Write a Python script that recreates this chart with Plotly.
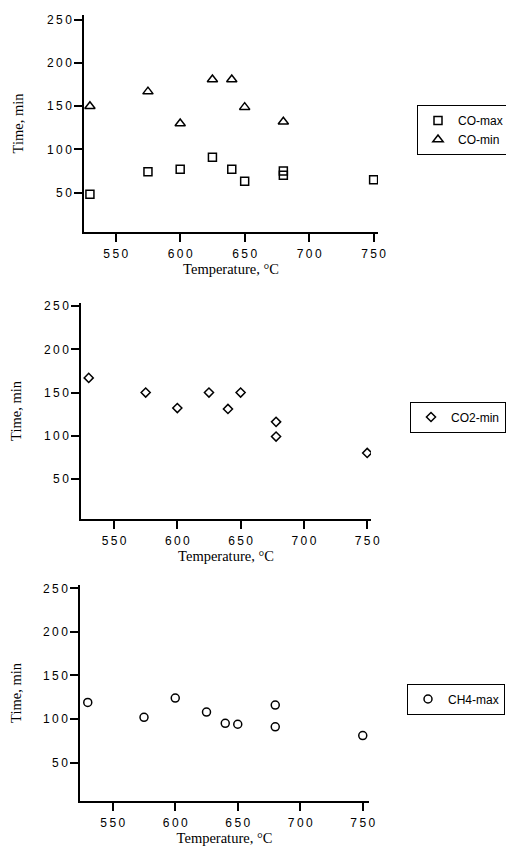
import plotly.graph_objects as go

W, H = 514, 851
OX, OY = 8, 8  # page body margin offset

# ---- data ----
co_max_T = [530, 575, 600, 625, 640, 650, 680, 680, 750]
co_max_t = [48, 74, 77, 91, 77, 63, 75, 70, 65]
co_min_T = [530, 575, 600, 625, 640, 650, 680]
co_min_t = [150, 167, 130, 181, 181, 149, 132]
co2_min_T = [530, 575, 600, 625, 640, 650, 678, 678, 750]
co2_min_t = [167, 150, 132, 150, 131, 150, 116, 99, 80]
ch4_max_T = [530, 575, 600, 625, 640, 650, 680, 680, 750]
ch4_max_t = [119, 102, 124, 108, 95, 94, 116, 91, 81]

x_ticks = [550, 600, 650, 700, 750]
y_ticks = [50, 100, 150, 200, 250]
x_title = "Temperature, °C"
y_title = "Time, min"

def spaced(v):
    return "\u2009".join(str(v))

# panel geometry in page pixels: (left, right, top, bottom), x range, y range
panels = [
    dict(px=(84, 378, 15, 232), xr=(525.4, 753.4), yr=(4.3, 255.8)),
    dict(px=(81, 371, 303, 519), xr=(523.9, 753.0), yr=(3.4, 253.8)),
    dict(px=(80, 369, 585, 801), xr=(523.8, 755.0), yr=(5.9, 253.8)),
]
legend_pos = [(417, 130), (410, 417), (407, 699)]

def fx(px):
    return (px - OX) / W

def fy(py):
    return 1 - (py - OY) / H

fig = go.Figure()
mk = dict(color="black", line=dict(color="black", width=1.5))
tickfont = dict(family="Liberation Sans, Arial, sans-serif", size=12, color="black")
titlefont = dict(family="Liberation Serif, Times New Roman, serif", size=14.5, color="black")

fig.add_trace(go.Scatter(x=co_max_T, y=co_max_t, mode="markers", name="CO-max",
                         marker=dict(symbol="square-open", size=8, **mk),
                         xaxis="x", yaxis="y", legend="legend"))
fig.add_trace(go.Scatter(x=co_min_T, y=co_min_t, mode="markers", name="CO-min",
                         marker=dict(symbol="triangle-up-open", size=9, **mk),
                         xaxis="x", yaxis="y", legend="legend"))
fig.add_trace(go.Scatter(x=co2_min_T, y=co2_min_t, mode="markers", name="CO2-min",
                         marker=dict(symbol="diamond-open", size=7, **mk),
                         xaxis="x2", yaxis="y2", legend="legend2"))
fig.add_trace(go.Scatter(x=ch4_max_T, y=ch4_max_t, mode="markers", name="CH4-max",
                         marker=dict(symbol="circle-open", size=8, **mk),
                         xaxis="x3", yaxis="y3", legend="legend3"))

layout = dict(width=W, height=H, margin=dict(l=0, r=0, t=0, b=0, autoexpand=False),
              paper_bgcolor="white", plot_bgcolor="white", showlegend=True)

for i, p in enumerate(panels):
    l, r, t, b = p["px"]
    sx = "" if i == 0 else str(i + 1)
    layout["xaxis" + sx] = dict(
        domain=[fx(l), fx(r)], range=list(p["xr"]), anchor="y" + sx,
        showline=True, linecolor="black", linewidth=1.5, mirror=False,
        ticks="outside", ticklen=8, tickwidth=1.5, tickcolor="black",
        tickvals=x_ticks, ticktext=[spaced(v) for v in x_ticks],
        tickfont=tickfont, ticklabelstandoff=2,
        showgrid=False, zeroline=False, automargin=False,
        title=dict(text=x_title, font=titlefont, standoff=4))
    layout["yaxis" + sx] = dict(
        domain=[fy(b), fy(t)], range=list(p["yr"]), anchor="x" + sx,
        showline=True, linecolor="black", linewidth=1.5, mirror=False,
        ticks="outside", ticklen=8, tickwidth=1.5, tickcolor="black",
        tickvals=y_ticks, ticktext=[spaced(v) for v in y_ticks],
        tickfont=tickfont, showgrid=False, zeroline=False, automargin=False,
        title=dict(text=y_title, font=titlefont, standoff=20))

legfont = dict(family="Liberation Sans, Arial, sans-serif", size=12, color="black")
common_leg = dict(xanchor="left", yanchor="middle", bordercolor="black", borderwidth=1,
                  bgcolor="white", font=legfont, tracegroupgap=0)
for i, (lx, ly) in enumerate(legend_pos):
    key = "legend" if i == 0 else "legend" + str(i + 1)
    layout[key] = dict(x=fx(lx), y=fy(ly), **common_leg)

fig.update_layout(**layout)
fig.write_html("out.html")
